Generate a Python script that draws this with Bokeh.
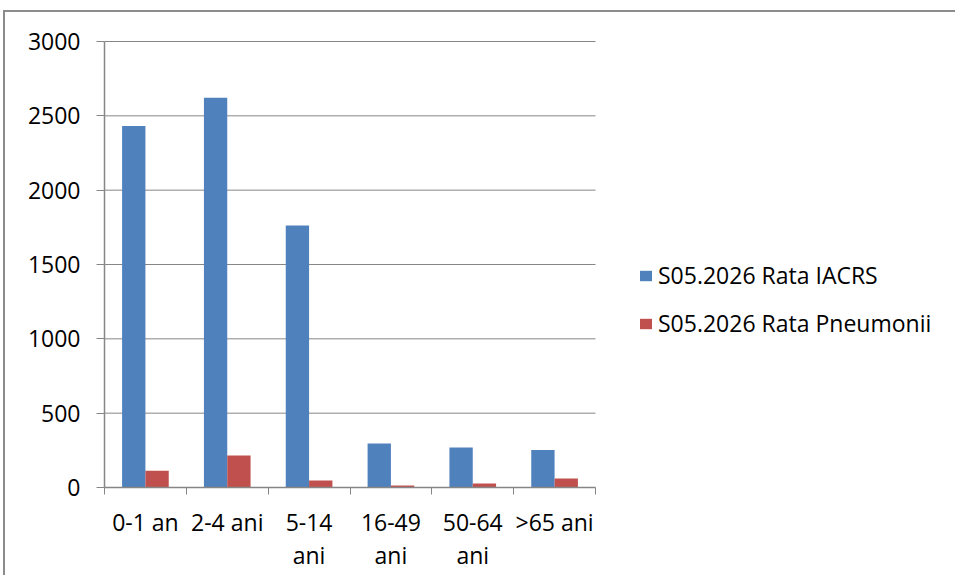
import numpy as np
from bokeh.plotting import figure
from bokeh.models import (Range1d, FixedTicker, LinearAxis, Legend, LegendItem, ColumnDataSource)
from bokeh.embed import file_html
from bokeh.resources import INLINE

categories = ["0-1 an", "2-4 ani", "5-14 ani", "16-49 ani", "50-64 ani", ">65 ani"]
tick_labels = ["0-1 an", "2-4 ani", "5-14\nani", "16-49\nani", "50-64\nani", ">65 ani"]
rata_iacrs = [2431, 2621, 1763, 296, 269, 253]
rata_pneumonii = [112, 215, 47, 13, 27, 60]
series_names = ["S05.2026 Rata IACRS", "S05.2026 Rata Pneumonii"]
y_ticks = [0, 500, 1000, 1500, 2000, 2500, 3000]

BLUE = "#4F81BD"
RED = "#C0504D"
GRAY = "#868686"
FONT = "Open Sans"
FS = "23px"

n = len(categories)
centers = np.arange(n) + 0.5
bw = 0.285

# layout (pixels)
PLOT_W = 491          # width of the category area
PLOT_H = 446          # height of 0..3000
HEAD = 3              # headroom above top gridline
FRAME_W = 851
FRAME_H = PLOT_H + HEAD
x_end = n * FRAME_W / PLOT_W
y_max = y_ticks[-1]
y_end = y_max * FRAME_H / PLOT_H

src = ColumnDataSource(dict(
    xb=centers - bw / 2, xr=centers + bw / 2,
    iacrs=rata_iacrs, pneu=rata_pneumonii, cat=categories))

p = figure(frame_width=FRAME_W, frame_height=FRAME_H, output_backend="svg",
           toolbar_location=None,
           x_range=Range1d(0, x_end), y_range=Range1d(0, y_end),
           min_border_left=99, min_border_top=26, min_border_right=0,
           min_border_bottom=88, outline_line_color=None,
           background_fill_color="white", border_fill_color="white")
p.styles = {"margin-left": "3px", "margin-top": "10px",
            "border-top": "2px solid #8c8c8c", "border-left": "2px solid #8c8c8c"}

# gridlines limited to the category area
grid_src = ColumnDataSource(dict(y=y_ticks, x0=[0] * len(y_ticks), x1=[n] * len(y_ticks)))
p.segment(x0="x0", y0="y", x1="x1", y1="y", source=grid_src,
          line_color=GRAY, line_width=1)
p.xgrid.grid_line_color = None
p.ygrid.grid_line_color = None

rb = p.vbar(x="xb", top="iacrs", width=bw, source=src, fill_color=BLUE, line_color=None)
rr = p.vbar(x="xr", top="pneu", width=bw, source=src, fill_color=RED, line_color=None)

# y axis
ya = p.yaxis[0]
ya.ticker = FixedTicker(ticks=y_ticks)
ya.bounds = (0, y_max)
ya.axis_line_color = GRAY
ya.axis_line_width = 1.5
ya.major_tick_line_color = GRAY
ya.major_tick_out = 8
ya.major_tick_in = 0
ya.minor_tick_line_color = None
ya.major_label_standoff = 16
ya.major_label_text_font = FONT
ya.major_label_text_font_size = FS
ya.major_label_text_color = "black"

# x axis: tick marks at category boundaries
xa = p.xaxis[0]
xa.ticker = FixedTicker(ticks=list(range(n + 1)))
xa.bounds = (0, n)
xa.major_label_overrides = {i: "" for i in range(n + 1)}
xa.major_label_text_font_size = "1px"
xa.major_label_standoff = 0
xa.axis_line_color = GRAY
xa.axis_line_width = 1.5
xa.major_tick_line_color = GRAY
xa.major_tick_out = 7
xa.major_tick_in = 0
xa.minor_tick_line_color = None

# x axis: category labels at centres
label_map = {}
for c, t in zip(centers, tick_labels):
    label_map[float(c)] = t
xl = LinearAxis(ticker=FixedTicker(ticks=[float(c) for c in centers]),
                bounds=(0, n),
                major_label_overrides=label_map,
                axis_line_color=None, major_tick_line_color=None,
                minor_tick_line_color=None, major_label_standoff=5,
                major_label_text_font=FONT, major_label_text_font_size=FS,
                major_label_text_color="black", major_label_text_line_height=1.05)
p.add_layout(xl, "below")

legend = Legend(items=[LegendItem(label=series_names[0], renderers=[rb]),
                       LegendItem(label=series_names[1], renderers=[rr])],
                location=(534, 148), orientation="vertical",
                label_text_font=FONT, label_text_font_size=FS, label_text_color="black",
                glyph_width=15, glyph_height=13, label_height=30, spacing=16,
                label_standoff=5, padding=0, margin=0,
                border_line_color=None, background_fill_alpha=0)
p.add_layout(legend)

open("out.html", "w").write(file_html(p, INLINE))
